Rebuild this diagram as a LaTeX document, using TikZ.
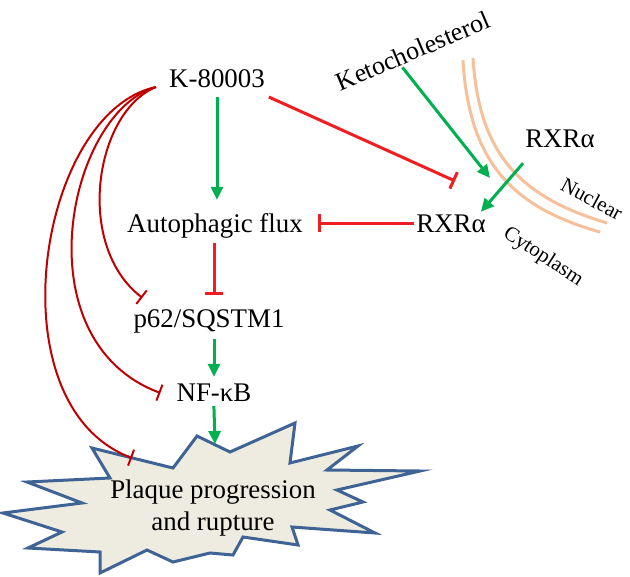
\documentclass[tikz,border=0pt]{standalone}
\usepackage{fontspec}
\setmainfont{Liberation Serif}
\usetikzlibrary{arrows.meta}
\definecolor{actgreen}{HTML}{00B050}
\definecolor{inhred}{HTML}{F01E23}
\definecolor{curvered}{HTML}{C00000}
\definecolor{membcol}{HTML}{F6C09A}
\definecolor{starfill}{HTML}{EEECE1}
\definecolor{stardraw}{HTML}{3E6394}
\begin{document}
\begin{tikzpicture}[x=1bp,y=-1bp,
  lbl/.style={inner sep=2bp, font=\fontsize{27}{32}\selectfont, text height=18bp, text depth=6bp},
  act/.style={draw=actgreen, line width=3bp, -{Triangle[length=13bp,width=12bp]}},
  inh/.style={draw=inhred, line width=3bp, -{Bar[width=18bp,line width=3bp]}},
  inhc/.style={draw=curvered, line width=2bp, -{Bar[width=17bp,line width=2bp]}},
  memb/.style={draw=membcol, line width=3bp},
  starshape/.style={draw=stardraw, fill=starfill, line width=3bp, line join=miter}
]
\useasboundingbox (0,0) rectangle (630,577);

% starburst
\draw[starshape] (92,448) -- (173,468) -- (197,436) -- (230,452) -- (295,423) -- (290,463)
  -- (358,446) -- (327,470) -- (420,471) -- (337,490) -- (363,502) -- (330,510)
  -- (375,533) -- (292,527) -- (298,545) -- (243,537) -- (233,555) -- (210,553)
  -- (173,562) -- (147,550) -- (100,573) -- (100,552) -- (28,548) -- (62,532)
  -- (3,513) -- (82,503) -- (27,482) -- (110,478) -- cycle;
\coordinate (sTop) at (215,444);
\coordinate (sLeft) at (132,458);

% membrane
\draw[memb] (463,60) .. controls (469,165) and (515,208) .. (600,232);
\draw[memb] (473,58) .. controls (479,158) and (524,198) .. (607,223);

% labels
\node[lbl] (k8) at (217,82) {K-80003};
\node[lbl] (af) at (215,226) {Autophagic flux};
\node[lbl] (rxc) at (451,226) {RXRα};
\node[lbl] (rxn) at (560,142) {RXRα};
\node[lbl] (p62) at (209,321) {p62/SQSTM1};
\node[lbl] (nfkb) at (214,395) {NF-κB};
\node[inner sep=2bp, font=\fontsize{26}{30}\selectfont, rotate=23] (keto) at (413,51) {Ketocholesterol};
\node[inner sep=1bp, font=\fontsize{21}{25}\selectfont, rotate=-28] (nuc) at (592,199) {Nuclear};
\node[inner sep=1bp, font=\fontsize{21}{25}\selectfont, rotate=-33] (cyto) at (543,257) {Cytoplasm};
\node[align=center, inner sep=0pt, font=\fontsize{27}{32}\selectfont] (pl) at (213,508) {Plaque progression\\and rupture};

% helper coordinates
\coordinate (kL) at ([shift={(-11bp,-5bp)}]k8.west);
\coordinate (kBar) at (455,181);
\coordinate (kt) at (490,178);
\coordinate (p62bar) at ([shift={(11bp,9bp)}]p62.north west);
\coordinate (nfbar) at ([shift={(-14bp,2bp)}]nfkb.west);

% straight connectors
\draw[act, shorten <=1bp, shorten >=12bp] (k8.south) -- (k8.south |- af.north);
\draw[inh, shorten >=13bp] ([yshift=3bp]rxc.west) -- ([yshift=3bp]af.east);
\draw[inh, shorten <=3bp, shorten >=12bp] ([xshift=-1bp]af.south) -- ([xshift=-1bp]af.south |- p62.north);
\draw[act, shorten <=4bp, shorten >=4bp] (nfkb.north |- p62.south) -- (nfkb.north);
\draw[act, shorten <=-3bp] (nfkb.south) -- (sTop);
\draw[inh, shorten <=2bp] (k8.south east) -- (kBar);
\draw[act] ([shift={(-15bp,-6bp)}]keto.south) -- (kt);
\draw[act] ([yshift=-7bp]rxn.south west) -- ([xshift=-7bp]rxc.north east);

% curved inhibitions
\draw[inhc] (kL) .. controls (95,112) and (74,245) .. (p62bar);
\draw[inhc] (kL) .. controls (68,112) and (20,340) .. (nfbar);
\draw[inhc] (kL) .. controls (38,112) and (-8,405) .. (sLeft);
\end{tikzpicture}
\end{document}
